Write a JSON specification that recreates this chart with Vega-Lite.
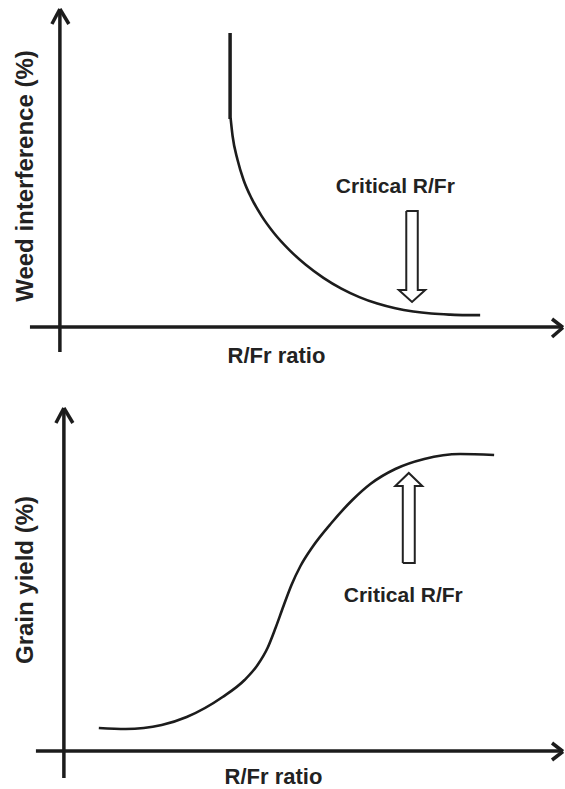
{
  "$schema": "https://vega.github.io/schema/vega-lite/v6.json",
  "width": 565,
  "height": 789,
  "autosize": {"type": "fit", "contains": "padding"},
  "padding": 0,
  "background": "white",
  "config": {"view": {"stroke": null}},
  "datasets": {
    "segments": [
      {"x": 60, "y": 9, "x2": 60, "y2": 352, "part": "axis"},
      {"x": 60, "y": 9, "x2": 52, "y2": 24, "part": "axis"},
      {"x": 60, "y": 9, "x2": 69, "y2": 24, "part": "axis"},
      {"x": 30, "y": 327, "x2": 563, "y2": 327, "part": "axis"},
      {"x": 564, "y": 327.5, "x2": 553, "y2": 319, "part": "axis"},
      {"x": 564, "y": 327.5, "x2": 553, "y2": 337, "part": "axis"},
      {"x": 230.5, "y": 33, "x2": 230.5, "y2": 119, "part": "axis"},
      {"x": 64, "y": 408, "x2": 64, "y2": 778, "part": "axis"},
      {"x": 64, "y": 408, "x2": 56, "y2": 423, "part": "axis"},
      {"x": 64, "y": 408, "x2": 73, "y2": 423, "part": "axis"},
      {"x": 36, "y": 751, "x2": 563, "y2": 751, "part": "axis"},
      {"x": 564, "y": 751.5, "x2": 553, "y2": 743, "part": "axis"},
      {"x": 564, "y": 751.5, "x2": 553, "y2": 760, "part": "axis"}
    ],
    "curves": [
      {"c": "weed", "x": 231, "y": 118},
      {"c": "weed", "x": 233, "y": 136},
      {"c": "weed", "x": 238, "y": 160},
      {"c": "weed", "x": 244, "y": 180},
      {"c": "weed", "x": 252, "y": 198.4},
      {"c": "weed", "x": 262, "y": 215.9},
      {"c": "weed", "x": 274, "y": 232.5},
      {"c": "weed", "x": 290, "y": 250.1},
      {"c": "weed", "x": 306, "y": 264.5},
      {"c": "weed", "x": 324, "y": 277.8},
      {"c": "weed", "x": 342, "y": 288.6},
      {"c": "weed", "x": 360, "y": 297.1},
      {"c": "weed", "x": 378, "y": 303.6},
      {"c": "weed", "x": 396, "y": 308.3},
      {"c": "weed", "x": 414, "y": 311.5},
      {"c": "weed", "x": 432, "y": 313.5},
      {"c": "weed", "x": 450, "y": 314.6},
      {"c": "weed", "x": 466, "y": 315.1},
      {"c": "weed", "x": 481, "y": 315.1},
      {"c": "yield", "x": 99, "y": 728},
      {"c": "yield", "x": 126, "y": 729},
      {"c": "yield", "x": 162, "y": 725},
      {"c": "yield", "x": 187, "y": 717},
      {"c": "yield", "x": 223, "y": 697},
      {"c": "yield", "x": 245, "y": 680},
      {"c": "yield", "x": 258, "y": 665},
      {"c": "yield", "x": 268, "y": 648},
      {"c": "yield", "x": 276, "y": 628},
      {"c": "yield", "x": 284, "y": 606},
      {"c": "yield", "x": 292, "y": 585},
      {"c": "yield", "x": 301, "y": 566},
      {"c": "yield", "x": 313, "y": 547},
      {"c": "yield", "x": 332, "y": 523},
      {"c": "yield", "x": 353, "y": 500},
      {"c": "yield", "x": 371, "y": 484},
      {"c": "yield", "x": 396, "y": 469},
      {"c": "yield", "x": 425, "y": 459},
      {"c": "yield", "x": 461, "y": 454},
      {"c": "yield", "x": 495, "y": 455}
    ],
    "blockArrows": [
      {"a": "down", "i": 0, "x": 407, "y": 211},
      {"a": "down", "i": 1, "x": 418.5, "y": 211},
      {"a": "down", "i": 2, "x": 418.5, "y": 290},
      {"a": "down", "i": 3, "x": 426, "y": 290},
      {"a": "down", "i": 4, "x": 412.75, "y": 302},
      {"a": "down", "i": 5, "x": 399.5, "y": 290},
      {"a": "down", "i": 6, "x": 407, "y": 290},
      {"a": "down", "i": 7, "x": 407, "y": 211},
      {"a": "up", "i": 0, "x": 403.5, "y": 563},
      {"a": "up", "i": 1, "x": 415.5, "y": 563},
      {"a": "up", "i": 2, "x": 415.5, "y": 486},
      {"a": "up", "i": 3, "x": 423, "y": 486},
      {"a": "up", "i": 4, "x": 409.5, "y": 473},
      {"a": "up", "i": 5, "x": 396, "y": 486},
      {"a": "up", "i": 6, "x": 403.5, "y": 486},
      {"a": "up", "i": 7, "x": 403.5, "y": 563}
    ]
  },
  "layer": [
    {
      "data": {"name": "segments"},
      "mark": {"type": "rule", "color": "#1c1c1c", "strokeWidth": 3.5, "strokeCap": "butt"},
      "encoding": {
        "x": {"field": "x", "type": "quantitative", "scale": {"domain": [0, 565], "nice": false, "zero": false}, "axis": null},
        "y": {"field": "y", "type": "quantitative", "scale": {"domain": [0, 789], "nice": false, "zero": false, "reverse": true}, "axis": null},
        "x2": {"field": "x2"},
        "y2": {"field": "y2"}
      }
    },
    {
      "data": {"name": "curves"},
      "mark": {"type": "line", "color": "#1c1c1c", "strokeWidth": 2.6, "interpolate": "monotone"},
      "encoding": {
        "x": {"field": "x", "type": "quantitative", "axis": null},
        "y": {"field": "y", "type": "quantitative", "axis": null},
        "detail": {"field": "c"}
      }
    },
    {
      "data": {"name": "blockArrows"},
      "mark": {"type": "line", "color": "#222222", "strokeWidth": 2, "interpolate": "linear", "strokeJoin": "miter"},
      "encoding": {
        "x": {"field": "x", "type": "quantitative", "axis": null},
        "y": {"field": "y", "type": "quantitative", "axis": null},
        "detail": {"field": "a"},
        "order": {"field": "i", "type": "quantitative"}
      }
    },
    {
      "data": {"values": [
        {"label": "Critical R/Fr", "x": 396, "y": 193},
        {"label": "Critical R/Fr", "x": 404, "y": 602}
      ]},
      "mark": {"type": "text", "font": "Liberation Sans", "fontWeight": "bold", "fontSize": 21, "color": "#222222", "align": "center", "baseline": "alphabetic"},
      "encoding": {
        "x": {"field": "x", "type": "quantitative", "axis": null},
        "y": {"field": "y", "type": "quantitative", "axis": null},
        "text": {"field": "label"}
      }
    },
    {
      "data": {"values": [
        {"label": "R/Fr ratio", "x": 277, "y": 363},
        {"label": "R/Fr ratio", "x": 274, "y": 784}
      ]},
      "mark": {"type": "text", "font": "Liberation Sans", "fontWeight": "bold", "fontSize": 22, "color": "#222222", "align": "center", "baseline": "alphabetic"},
      "encoding": {
        "x": {"field": "x", "type": "quantitative", "axis": null},
        "y": {"field": "y", "type": "quantitative", "axis": null},
        "text": {"field": "label"}
      }
    },
    {
      "data": {"values": [
        {"label": "Weed interference (%)", "x": 33, "y": 176},
        {"label": "Grain yield (%)", "x": 33, "y": 580}
      ]},
      "mark": {"type": "text", "font": "Liberation Sans", "fontWeight": "bold", "fontSize": 24, "color": "#222222", "align": "center", "baseline": "alphabetic", "angle": 270},
      "encoding": {
        "x": {"field": "x", "type": "quantitative", "axis": null},
        "y": {"field": "y", "type": "quantitative", "axis": null},
        "text": {"field": "label"}
      }
    }
  ]
}
